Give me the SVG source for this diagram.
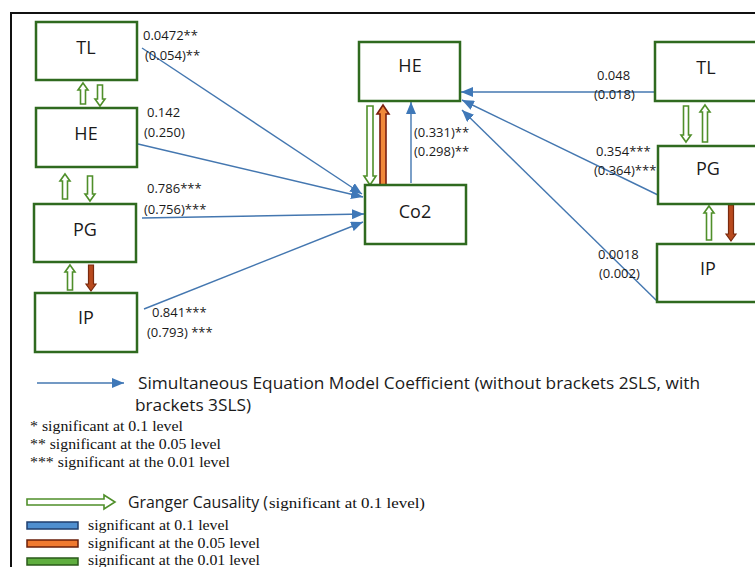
<svg xmlns="http://www.w3.org/2000/svg" width="755" height="567" viewBox="0 0 755 567">
<style>
.box{fill:#fff;stroke:#2f6a1f;stroke-width:2.5}
.nl{font-family:"Open Sans","Liberation Sans",sans-serif;font-size:18px;fill:#1a1a1a;text-anchor:middle}
.cf{font-family:"Open Sans","Liberation Sans",sans-serif;font-size:13px;fill:#1a1a1a}
.con{stroke:#4477b0;stroke-width:1.4;fill:none;marker-end:url(#ah)}
.gg{fill:#fff;stroke:#4f8f2a;stroke-width:1.6}
.rd{fill:#b84a1e;stroke:#7a2a0e;stroke-width:1.2}
.or{fill:#f0883a;stroke:#7a1f0e;stroke-width:1.6}
.lg{font-family:"Open Sans","Liberation Sans",sans-serif;font-size:17px;fill:#1a1a1a}
.sf{font-family:"Liberation Serif","Times New Roman",serif;font-size:14px;fill:#111}
</style>
<defs>
<marker id="ah" markerUnits="userSpaceOnUse" markerWidth="12" markerHeight="10" refX="12" refY="5" orient="auto">
<path d="M0,0 L12,5 L0,10 z" fill="#3f78b8"/>
</marker>
</defs>
<rect width="755" height="567" fill="#fff"/>
<path d="M10,13 H755 M11,13 V567" stroke="#111" stroke-width="2" fill="none"/>

<g id="connectors">
<path class="con" d="M142,48 L362,194"/>
<path class="con" d="M138,144 L363,197"/>
<path class="con" d="M142,218 L364,214"/>
<path class="con" d="M144,309 L363,222"/>
<path class="con" d="M411,183 L411,102"/>
<path class="con" d="M655,92 L461,92"/>
<path class="con" d="M658,195 L462,100"/>
<path class="con" d="M657,301 L462,110"/>
<!-- Granger arrows left -->
<polygon class="gg" points="83,83 88,90 85.5,90 85.5,104 80.5,104 80.5,90 78,90"/>
<polygon class="gg" points="100,106 105,99 102.5,99 102.5,85 97.5,85 97.5,99 95,99"/>
<polygon class="gg" points="65,174 70,181 67.5,181 67.5,199 62.5,199 62.5,181 60,181"/>
<polygon class="gg" points="90,201 95,194 92.5,194 92.5,176 87.5,176 87.5,194 85,194"/>
<polygon class="gg" points="70,265 75,272 72.5,272 72.5,290 67.5,290 67.5,272 65,272"/>
<polygon class="rd" points="91,291 96,284 93.5,284 93.5,265 88.5,265 88.5,284 86,284"/>
<!-- center -->
<polygon class="gg" points="370,185 376,176 373,176 373,106 367,106 367,176 364,176"/>
<polygon class="or" points="383,105 389,114 386,114 386,185 380,185 380,114 377,114"/>
<!-- right -->
<polygon class="gg" points="686,142 691,135 688.5,135 688.5,106 683.5,106 683.5,135 681,135"/>
<polygon class="gg" points="705,105 710,112 707.5,112 707.5,142 702.5,142 702.5,112 700,112"/>
<polygon class="gg" points="709,206 714,213 711.5,213 711.5,240 706.5,240 706.5,213 704,213"/>
<polygon class="rd" points="731,241 736,234 733.5,234 733.5,205 728.5,205 728.5,234 726,234"/>
</g>

<g id="L_TL"><rect class="box" x="36" y="22" width="101" height="58"/><text class="nl" x="86" y="54">TL</text></g>
<g id="L_HE"><rect class="box" x="36" y="108" width="101" height="59"/><text class="nl" x="86" y="140">HE</text></g>
<g id="L_PG"><rect class="box" x="34" y="204" width="102" height="58"/><text class="nl" x="85" y="236">PG</text></g>
<g id="L_IP"><rect class="box" x="35" y="293" width="102" height="59"/><text class="nl" x="86" y="324">IP</text></g>
<g id="C_HE"><rect class="box" x="359" y="42" width="101" height="59"/><text class="nl" x="410" y="72">HE</text></g>
<g id="C_Co2"><rect class="box" x="365" y="185" width="101" height="59"/><text class="nl" x="415" y="218">Co2</text></g>
<g id="R_TL"><rect class="box" x="655" y="42" width="110" height="59"/><text class="nl" x="706" y="74">TL</text></g>
<g id="R_PG"><rect class="box" x="658" y="146" width="107" height="58"/><text class="nl" x="708" y="175">PG</text></g>
<g id="R_IP"><rect class="box" x="657" y="244" width="108" height="58"/><text class="nl" x="708" y="275">IP</text></g>

<g id="labels">
<text class="cf" x="143" y="40">0.0472**</text>
<text class="cf" x="145" y="60">(0.054)**</text>
<text class="cf" x="147" y="117">0.142</text>
<text class="cf" x="144" y="137">(0.250)</text>
<text class="cf" x="147" y="193">0.786***</text>
<text class="cf" x="144" y="214">(0.756)***</text>
<text class="cf" x="152" y="317">0.841***</text>
<text class="cf" x="147" y="337">(0.793) ***</text>
<text class="cf" x="414" y="137">(0.331)**</text>
<text class="cf" x="414" y="156">(0.298)**</text>
<text class="cf" x="597" y="80">0.048</text>
<text class="cf" x="594" y="99">(0.018)</text>
<text class="cf" x="596" y="156">0.354***</text>
<text class="cf" x="594" y="175">(0.364)***</text>
<text class="cf" x="598" y="259">0.0018</text>
<text class="cf" x="599" y="278">(0.002)</text>
</g>

<g id="legend">
<path class="con" d="M37,383 L124,383"/>
<text class="lg" x="138" y="389" textLength="562" lengthAdjust="spacingAndGlyphs">Simultaneous Equation Model Coefficient (without brackets 2SLS, with</text>
<text class="lg" x="135" y="411" textLength="116" lengthAdjust="spacingAndGlyphs">brackets 3SLS)</text>
<text class="sf" x="30" y="431" textLength="153" lengthAdjust="spacingAndGlyphs">* significant at 0.1 level</text>
<text class="sf" x="30" y="449" textLength="191" lengthAdjust="spacingAndGlyphs">** significant at the 0.05 level</text>
<text class="sf" x="30" y="467" textLength="200" lengthAdjust="spacingAndGlyphs">*** significant at the 0.01 level</text>
<polygon class="gg" points="27,499 104,499 104,495 115,502 104,509 104,505 27,505"/>
<text class="lg" x="128" y="508" textLength="140" lengthAdjust="spacingAndGlyphs">Granger Causality (</text>
<text class="sf" x="269" y="508" textLength="156" lengthAdjust="spacingAndGlyphs">significant at 0.1 level)</text>
<rect x="27" y="522" width="51" height="7" fill="#4f8fd0" stroke="#1f3f6f" stroke-width="1.5"/>
<rect x="27" y="540" width="51" height="7" fill="#f07a30" stroke="#6a1f0a" stroke-width="1.5"/>
<rect x="27" y="558" width="51" height="7" fill="#5fae3f" stroke="#2a5a1a" stroke-width="1.5"/>
<text class="sf" x="88" y="530" textLength="141" lengthAdjust="spacingAndGlyphs">significant at 0.1 level</text>
<text class="sf" x="88" y="548" textLength="172" lengthAdjust="spacingAndGlyphs">significant at the 0.05 level</text>
<text class="sf" x="88" y="565" textLength="172" lengthAdjust="spacingAndGlyphs">significant at the 0.01 level</text>
</g>
</svg>
